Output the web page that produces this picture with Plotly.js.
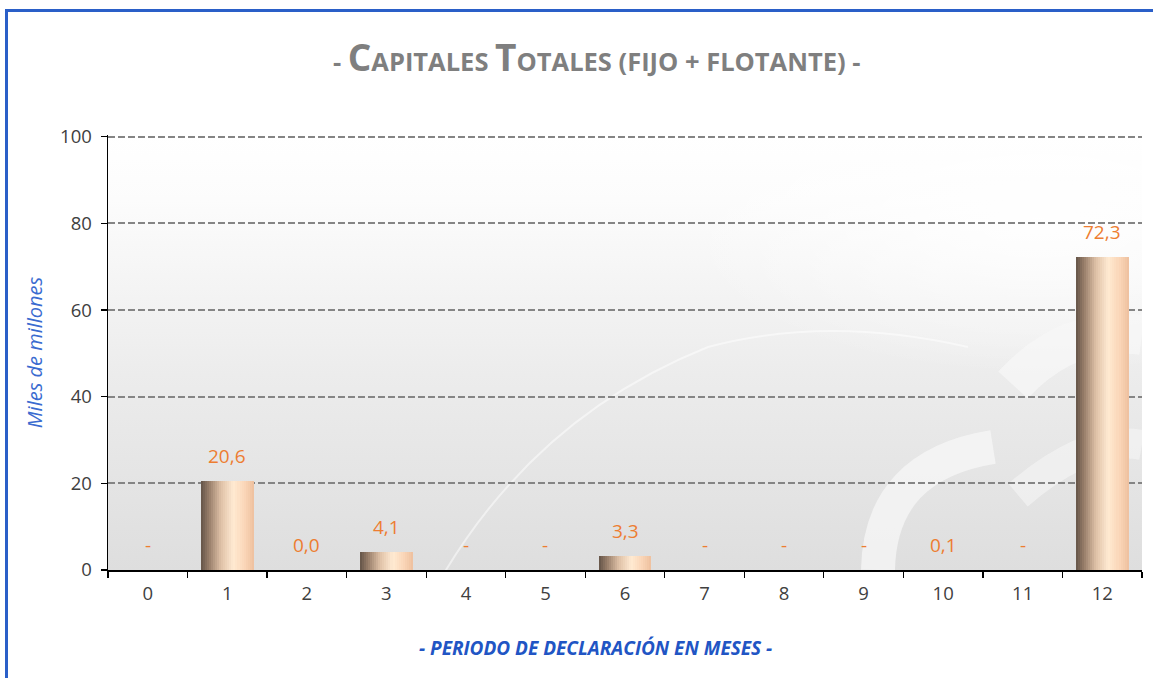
<!DOCTYPE html>
<html><head><meta charset="utf-8">
<script src="https://cdn.plot.ly/plotly-3.0.1.min.js"></script>
<style>
body{margin:0;background:#fff;}
#wrap{position:relative;width:1153px;height:678px;overflow:hidden;}
#chart{position:absolute;left:0;top:0;width:1153px;height:678px;}
#frame{position:absolute;left:5px;top:9px;right:-10px;bottom:-10px;border-left:3px solid #2a5fc8;border-top:3px solid #2a5fc8;pointer-events:none;}
</style>
</head><body>
<div id="wrap"><div id="chart"></div><div id="frame"></div></div>
<script>
// ---- data ----
const categories = ['0','1','2','3','4','5','6','7','8','9','10','11','12'];
const values = [null, 20.6, 0.04, 4.1, null, null, 3.3, null, null, null, 0.1, null, 72.3];
const yTicks = [0, 20, 40, 60, 80, 100];
const chartTitle = '- <span style="font-size:37px">C</span>APITALES <span style="font-size:37px">T</span>OTALES (FIJO + FLOTANTE) -';
const xTitle = '<b><i>- PERIODO DE DECLARACIÓN EN MESES -</i></b>';
const yTitle = '<i>Miles de millones</i>';

// ---- styling helpers ----
const stops = [[0,[100,84,72]],[0.15,[150,124,104]],[0.38,[222,192,166]],[0.62,[255,234,210]],[0.82,[250,214,184]],[1,[238,192,158]]];
function gradColor(t){
  for(let k=1;k<stops.length;k++){
    if(t<=stops[k][0]){
      const a=stops[k-1], b=stops[k];
      const f=(t-a[0])/(b[0]-a[0]);
      const c=a[1].map((v,j)=>Math.round(v+(b[1][j]-v)*f));
      return 'rgb('+c.join(',')+')';
    }
  }
  return 'rgb('+stops[stops.length-1][1].join(',')+')';
}
const barW = 0.666, N = 26, sw = barW/N;
const yVals = values.map(v => v == null ? 0 : v);
const traces = [];
for(let i=0;i<N;i++){
  const off = -barW/2 + i*sw;
  const w = Math.min(sw*1.7, barW/2 - off);
  traces.push({
    type:'bar', x:categories, y:yVals, width:w, offset:off,
    marker:{color:gradColor((i+0.5)/N), line:{width:0}},
    hoverinfo: i===0 ? 'x+y' : 'skip', showlegend:false
  });
}
const labels = values.map(v => v == null ? '-' : v.toFixed(1).replace('.', ','));
const annotations = categories.map((c,i)=>({
  x:c, y:yVals[i], xref:'x', yref:'y', text:labels[i], showarrow:false,
  yanchor:'middle', yshift:25, font:{family:'Open Sans, sans-serif', size:19, color:'#ed7d31'}
}));
annotations.push({
  text:xTitle, xref:'paper', yref:'paper', x:(595-108)/1034, y:-(648-570)/435, xanchor:'center', yanchor:'middle',
  showarrow:false, font:{family:'Open Sans, sans-serif', size:19, color:'#2155c4'}
});

const bgSvg = '<svg xmlns="http://www.w3.org/2000/svg" width="1034" height="435" viewBox="0 0 1034 435" preserveAspectRatio="none">'+
 '<defs><linearGradient id="g" x1="0" y1="0" x2="0" y2="1">'+
 '<stop offset="0" stop-color="#ffffff"/><stop offset="0.15" stop-color="#fcfcfc"/><stop offset="0.55" stop-color="#ececec"/><stop offset="1" stop-color="#dedede"/></linearGradient>'+
 '<radialGradient id="r" cx="0.9" cy="0.2" r="0.35"><stop offset="0" stop-color="#ffffff" stop-opacity="0.9"/><stop offset="1" stop-color="#ffffff" stop-opacity="0"/></radialGradient></defs>'+
 '<rect width="1034" height="435" fill="url(#g)"/><rect width="1034" height="435" fill="url(#r)"/>'+
 '<path d="M335 440 Q430 280 600 212 Q720 180 860 212" fill="none" stroke="#ffffff" stroke-width="2" stroke-opacity="0.5"/>'+
 '<path d="M770 435 Q772 330 885 312" fill="none" stroke="#f7f7f7" stroke-width="34" stroke-opacity="0.75"/>'+
 '<path d="M905 250 Q960 190 1034 200" fill="none" stroke="#f7f7f7" stroke-width="40" stroke-opacity="0.75"/>'+
 '<path d="M910 360 Q980 300 1034 310" fill="none" stroke="#f4f4f4" stroke-width="30" stroke-opacity="0.65"/>'+
 '</svg>';

const layout = {
  width:1153, height:678,
  margin:{l:108, r:11, t:135, b:108},
  paper_bgcolor:'rgba(0,0,0,0)', plot_bgcolor:'rgba(0,0,0,0)',
  barmode:'overlay', bargap:0,
  title:{text:chartTitle, x:0.5175, xanchor:'center', y:0.909, yanchor:'middle', yref:'container',
    font:{family:'Open Sans, sans-serif', size:25.5, color:'#7f7f7f', weight:'bold'}},
  xaxis:{type:'category', categoryorder:'array', categoryarray:categories,
    tickson:'boundaries', ticks:'outside', ticklen:6, tickcolor:'#000', tickwidth:1.3,
    showline:true, linecolor:'#000', linewidth:1.5, showgrid:false,
    tickfont:{family:'Open Sans, sans-serif', size:18.5, color:'#404040'}, ticklabelstandoff:6},
  yaxis:{range:[0,100.4], tickvals:yTicks, ticks:'outside', ticklen:6, tickcolor:'#000', tickwidth:1.3,
    showline:true, linecolor:'#000', linewidth:1.5, zeroline:false,
    showgrid:true, gridcolor:'#858585', gridwidth:2, griddash:'7px,3px',
    tickfont:{family:'Open Sans, sans-serif', size:18.5, color:'#404040'}, ticklabelstandoff:5,
    title:{text:yTitle, standoff:12, font:{family:'Open Sans, sans-serif', size:20, color:'#3a6bd0'}}},
  annotations:annotations,
  images:[{source:'data:image/svg+xml;charset=utf-8,'+encodeURIComponent(bgSvg), xref:'paper', yref:'paper',
    x:0, y:1, sizex:1, sizey:1, sizing:'stretch', xanchor:'left', yanchor:'top', layer:'below'}],
  showlegend:false
};
Plotly.newPlot('chart', traces, layout, {displayModeBar:false, staticPlot:true});
</script>
</body></html>
